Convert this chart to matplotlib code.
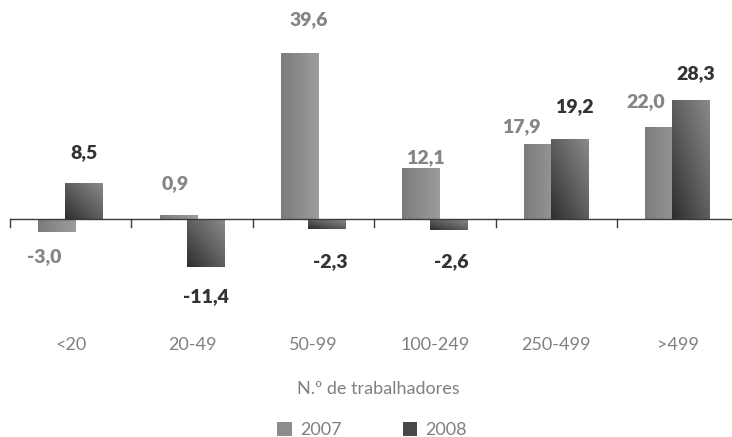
import numpy as np
import matplotlib
matplotlib.use("Agg")
import matplotlib.pyplot as plt
from matplotlib.patches import Patch
from matplotlib.colors import LinearSegmentedColormap
from matplotlib.transforms import blended_transform_factory

plt.rcParams['font.family'] = ['Lato', 'DejaVu Sans']

categories = ["<20", "20-49", "50-99", "100-249", "250-499", ">499"]
v2007 = [-3.0, 0.9, 39.6, 12.1, 17.9, 22.0]
v2008 = [8.5, -11.4, -2.3, -2.6, 19.2, 28.3]
series_names = ["2007", "2008"]

# label nudges in pixels (dx, dy from bar end)
off2007 = [(-13, -25), (-3, 32), (9, 33), (4, 11), (-21, 17), (-18, 25)]
off2008 = [(0, 31), (0, -30), (3, -33), (3, -32), (4, 32), (4, 27)]

W, H = 732, 437
fig = plt.figure(figsize=(W / 100, H / 100), dpi=100)
ax = fig.add_axes([10 / W, 137 / H, 728.4 / W, 290 / H])
ax.axis('off')

cmap07 = LinearSegmentedColormap.from_list("g07", ["#7c7c7c", "#9c9c9c"])
cmap08 = LinearSegmentedColormap.from_list("g08", ["#2e2e2e", "#5e5e5e", "#8a8a8a"])

x = np.arange(len(categories))
bw = 0.31
off = 0.112


def grad_bars(xs, vals, cmap, diag, z):
    bars = ax.bar(xs, vals, width=bw, color='none', edgecolor='none', zorder=z)
    u, v = np.meshgrid(np.linspace(0, 1, 60), np.linspace(0, 1, 60))
    g = (u + v) / 2 if diag else u
    for b in bars:
        x0, y0 = b.get_x(), b.get_y()
        x1, y1 = x0 + b.get_width(), y0 + b.get_height()
        lo, hi = min(y0, y1), max(y0, y1)
        im = ax.imshow(g, cmap=cmap, extent=(x0, x1, hi, lo), origin='upper',
                       aspect='auto', zorder=z, interpolation='bilinear')
        im.set_clip_path(b)
    return bars


grad_bars(x - off, v2007, cmap07, False, 2)
grad_bars(x + off, v2008, cmap08, True, 3)
ax.set_xlim(-0.5, 5.5)
ax.set_ylim(-19.33, 49.88)

# axis line and ticks at category boundaries
ax.axhline(0, color='#3a3a3a', lw=1.0, zorder=5)
for b in np.arange(-0.5, 6.0, 1.0):
    ax.plot([b, b], [0, -8 / 4.19], color='#3a3a3a', lw=1.0, zorder=5, clip_on=False)

for i, val in enumerate(v2007):
    ax.annotate(f"{val:.1f}".replace('.', ','), xy=(i - off, val), xytext=off2007[i],
                textcoords='offset pixels', ha='center', va='center',
                fontsize=14, fontweight='heavy', color='#858585')
for i, val in enumerate(v2008):
    ax.annotate(f"{val:.1f}".replace('.', ','), xy=(i + off, val), xytext=off2008[i],
                textcoords='offset pixels', ha='center', va='center',
                fontsize=14, fontweight='heavy', color='#333333')

tr = blended_transform_factory(ax.transData, fig.transFigure)
for i, c in enumerate(categories):
    ax.text(i, 1 - 345 / H, c, transform=tr, ha='center', va='center',
            fontsize=13, color='#808080')

fig.text(378 / W, 1 - 389 / H, "N.º de trabalhadores", ha='center', va='center',
         fontsize=13, color='#808080')

handles = [Patch(facecolor='#8c8c8c', edgecolor='none'),
           Patch(facecolor='#484848', edgecolor='none')]
fig.legend(handles, series_names, loc='center', bbox_to_anchor=(372 / W, 1 - 430 / H),
           ncol=2, frameon=False, fontsize=13, labelcolor='#808080',
           handlelength=0.8, handleheight=0.8, handletextpad=0.45, columnspacing=3.4)

fig.savefig("out.png", dpi=100)
